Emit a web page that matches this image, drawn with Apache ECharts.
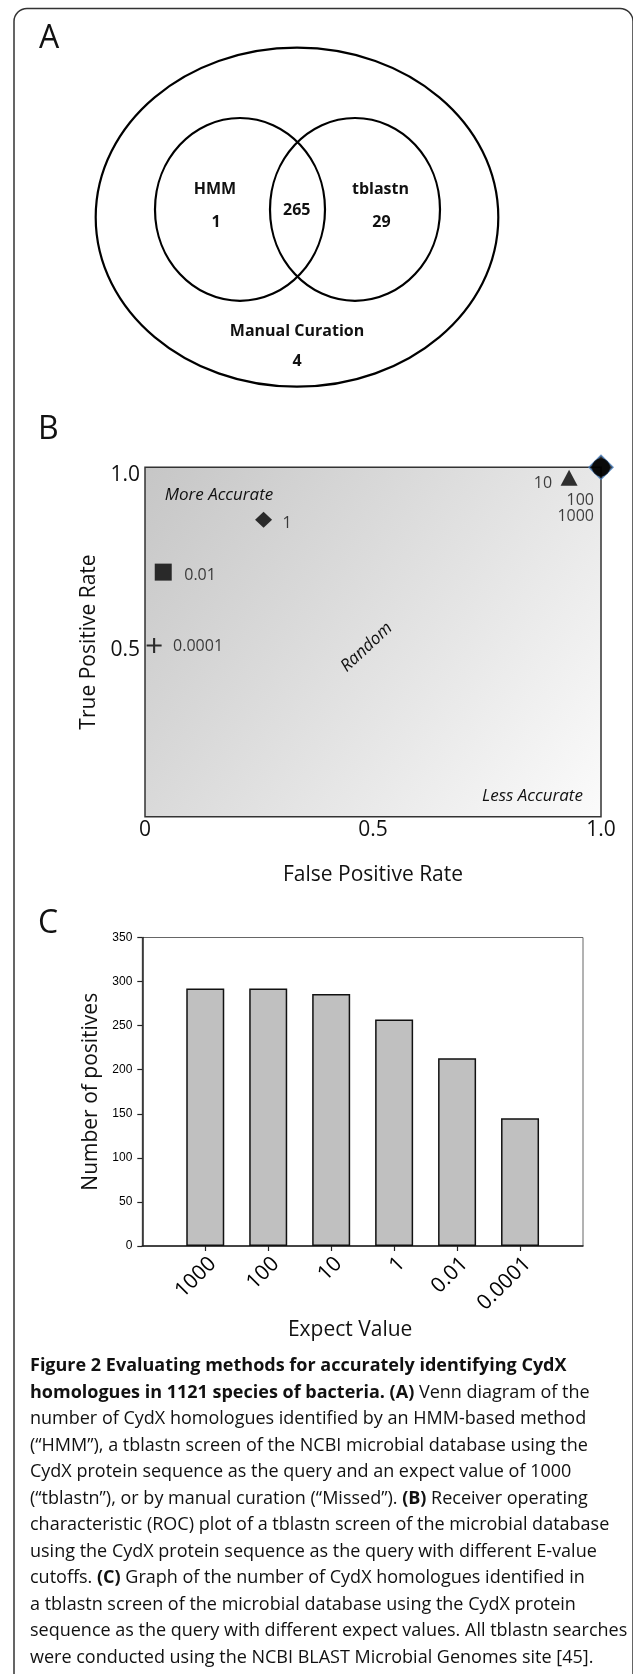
<!DOCTYPE html>
<html>
<head>
<meta charset="utf-8">
<script src="https://cdn.jsdelivr.net/npm/echarts@6/dist/echarts.min.js"></script>
<style>
html, body { margin: 0; padding: 0; background: #fff; }
#chartmain { width: 633px; height: 1674px; }
</style>
</head>
<body>
<div id="chartmain"></div>
<script>
// A: Venn counts
var vennNames = ['HMM', 'tblastn', 'Manual Curation'];
var vennOnly = [1, 29, 4];
var vennShared = 265;

// B: ROC points per E-value cutoff
var rocCutoffs = ['0.0001', '0.01', '1', '10', '100', '1000'];
var rocFpr = [0.02, 0.04, 0.26, 0.93, 1.0, 1.0];
var rocTpr = [0.49, 0.70, 0.85, 0.97, 1.0, 1.0];
var rocXLabels = ['0', '0.5', '1.0'];
var rocYLabels = ['', '0.5', '1.0'];

// C: positives per expect value
var expectValues = ['1000', '100', '10', '1', '0.01', '0.0001'];
var positives = [292, 292, 286, 257, 213, 145];

// layout of the venn panel, in panel pixels
var vennLayout = [
	{ cx : 240, cy : 209.4, rx : 85, ry : 91.4, tx : 215, ty : 189, nx : 216, ny : 222 },
	{ cx : 355, cy : 209.4, rx : 85, ry : 91.4, tx : 380.5, ty : 189, nx : 381.5, ny : 222 },
	{ cx : 297, cy : 217.2, rx : 201.3, ry : 169.5, tx : 297, ty : 331.7, nx : 297, ny : 361 }
];
var vennSharedPos = [296.7, 210.7];

var plusPath = 'path://M4.3,0H5.7V4.3H10V5.7H5.7V10H4.3V5.7H0V4.3H4.3Z';
var rocMarks = [
	{ symbol : plusPath, size : 15, offset : [ 19, 1 ], align : 'left' },
	{ symbol : 'rect', size : 17, offset : [ 21, 3 ], align : 'left' },
	{ symbol : 'diamond', size : [ 17, 16 ], offset : [ 19, 4 ], align : 'left' },
	{ symbol : 'triangle', size : [ 17, 16 ], offset : [ -17, 6 ], align : 'right' },
	{ symbol : 'diamond', size : 24, offset : [ -7, 33 ], align : 'right', border : '#4a7ebb' },
	{ symbol : 'circle', size : 18, offset : [ -7, 49 ], align : 'right' }
];

var font = 'Open Sans';
var ink = '#111';

var vennData = vennOnly.map(function(v, i) {
	return { name : vennNames[i], value : [ i, v ] };
});
vennData.push({ name : '', value : [ 3, vennShared ] });

var rocSeries = rocCutoffs.map(function(c, i) {
	var m = rocMarks[i];
	return {
		type : 'scatter',
		name : c,
		xAxisIndex : 1,
		yAxisIndex : 1,
		symbol : m.symbol,
		symbolSize : m.size,
		itemStyle : {
			color : '#000',
			borderColor : m.border || '#000',
			borderWidth : m.border ? 1.5 : 0
		},
		label : {
			show : true,
			position : 'inside',
			formatter : '{b}',
			align : m.align,
			verticalAlign : 'middle',
			offset : m.offset,
			fontFamily : font,
			fontSize : 16,
			color : ink
		},
		data : [ { name : c, value : [ rocFpr[i], rocTpr[i] ] } ]
	};
});

var captionLines = [
	'{b|Figure 2 Evaluating methods for accurately identifying CydX}',
	'{b|homologues in 1121 species of bacteria. (A)} Venn diagram of the',
	'number of CydX homologues identified by an HMM-based method',
	'(\u201cHMM\u201d), a tblastn screen of the NCBI microbial database using the',
	'CydX protein sequence as the query and an expect value of 1000',
	'(\u201ctblastn\u201d), or by manual curation (\u201cMissed\u201d). {b|(B)} Receiver operating',
	'characteristic (ROC) plot of a tblastn screen of the microbial database',
	'using the CydX protein sequence as the query with different E-value',
	'cutoffs. {b|(C)} Graph of the number of CydX homologues identified in',
	'a tblastn screen of the microbial database using the CydX protein',
	'sequence as the query with different expect values. All tblastn searches',
	'were conducted using the NCBI BLAST Microbial Genomes site [45].'
];

function panelLetter(t, x, y) {
	return {
		type : 'text', x : x, y : y,
		style : { text : t, fontFamily : font, fontSize : 32, fill : ink, verticalAlign : 'middle' }
	};
}
function note(t, x, y, rot) {
	return {
		type : 'text', x : x, y : y, rotation : rot || 0, z : 10,
		style : { text : t, fontFamily : font, fontStyle : 'italic', fontSize : 17, fill : ink,
			align : 'center', verticalAlign : 'middle' }
	};
}

var option = {
	animation : false,
	textStyle : { fontFamily : font },
	graphic : [
		{ type : 'rect', shape : { x : 14, y : 8.5, width : 619, height : 1700, r : 13 },
			style : { fill : 'none', stroke : '#333', lineWidth : 1.5 } },
		panelLetter('A', 39, 38.5),
		panelLetter('B', 38, 430),
		panelLetter('C', 38, 923.5),
		note('More Accurate', 219, 495),
		note('Less Accurate', 532.5, 796),
		note('Random', 366.6, 647.3, 0.75),
		{
			type : 'text', x : 30, y : 1353,
			style : {
				text : captionLines.join('\n'),
				fontFamily : font, fontSize : 18, lineHeight : 26.5, fill : ink,
				verticalAlign : 'top',
				rich : { b : { fontFamily : font, fontSize : 18, fontWeight : 'bold', lineHeight : 26.5, fill : ink } }
			}
		}
	],
	grid : [ {
		left : 0, top : 0, width : 633, height : 420, outerBoundsMode : 'none'
	}, {
		left : 145, top : 467.3, width : 456, height : 349.4, outerBoundsMode : 'none',
		show : true,
		backgroundColor : new echarts.graphic.LinearGradient(0, 0, 1, 1, [
			{ offset : 0, color : '#c6c6c6' }, { offset : 1, color : '#fbfbfb' } ]),
		borderColor : '#333',
		borderWidth : 1.5
	}, {
		left : 142.3, top : 937.5, width : 440.7, height : 308.5, outerBoundsMode : 'none',
		show : true,
		borderColor : '#666',
		borderWidth : 1
	} ],
	xAxis : [ {
		gridIndex : 0, type : 'value', min : 0, max : 633, show : false
	}, {
		gridIndex : 1, type : 'value', min : 0, max : 1, interval : 0.5,
		name : 'False Positive Rate', nameLocation : 'middle', nameGap : 48,
		nameTextStyle : { fontSize : 21, color : ink },
		axisLine : { show : false }, axisTick : { show : false }, splitLine : { show : false },
		axisLabel : {
			fontSize : 21, color : ink, margin : 3, showMinLabel : true, showMaxLabel : true,
			formatter : function(v) { return rocXLabels[Math.round(v * 2)]; }
		}
	}, {
		gridIndex : 2, type : 'value', min : 0, max : 7, interval : 1,
		name : 'Expect Value', nameLocation : 'middle', nameGap : 74,
		nameTextStyle : { fontSize : 21, color : ink, padding : [ 0, 25, 0, 0 ] },
		axisLine : { lineStyle : { color : '#222', width : 1.5 } },
		axisTick : { customValues : [ 1, 2, 3, 4, 5, 6 ], length : 5, lineStyle : { color : '#222', width : 1.2 } },
		splitLine : { show : false },
		axisLabel : {
			customValues : [ 1, 2, 3, 4, 5, 6 ],
			rotate : 45, fontSize : 21, color : '#000', margin : 7, verticalAlign : 'top',
			formatter : function(v) { return expectValues[v - 1] || ''; }
		}
	} ],
	yAxis : [ {
		gridIndex : 0, type : 'value', min : 0, max : 420, inverse : true, show : false
	}, {
		gridIndex : 1, type : 'value', min : 0, max : 1, interval : 0.5,
		name : 'True Positive Rate', nameLocation : 'middle', nameGap : 35,
		nameTextStyle : { fontSize : 21, color : ink },
		axisLine : { show : false }, axisTick : { show : false }, splitLine : { show : false },
		axisLabel : {
			fontSize : 21, color : ink, margin : 5, verticalAlign : 'top', lineHeight : 16,
			showMaxLabel : true,
			formatter : function(v) { return rocYLabels[Math.round(v * 2)]; }
		}
	}, {
		gridIndex : 2, type : 'value', min : 0, max : 350, interval : 50,
		name : 'Number of positives', nameLocation : 'middle', nameGap : 40,
		nameTextStyle : { fontSize : 21, color : ink },
		axisLine : { show : true, lineStyle : { color : '#222', width : 1.5 } },
		axisTick : { show : true, length : 5, lineStyle : { color : '#222', width : 1.2 } },
		splitLine : { show : false },
		axisLabel : { fontFamily : 'Liberation Sans', fontSize : 12, color : '#000', margin : 10 }
	} ],
	series : [ {
		type : 'custom',
		xAxisIndex : 0,
		yAxisIndex : 0,
		silent : true,
		clip : false,
		data : vennData,
		renderItem : function(params, api) {
			var i = params.dataIndex;
			var count = vennData[i].value[1];
			var txt = { fontFamily : font, fontSize : 16, fontWeight : 'bold', fill : ink,
				align : 'center', verticalAlign : 'middle' };
			if (i === 3) {
				var p = api.coord(vennSharedPos);
				return { type : 'text', x : p[0], y : p[1], style : Object.assign({ text : String(count) }, txt) };
			}
			var s = vennLayout[i];
			var c = api.coord([ s.cx, s.cy ]);
			var r = api.size([ s.rx, s.ry ]);
			var t = api.coord([ s.tx, s.ty ]);
			var n = api.coord([ s.nx, s.ny ]);
			return {
				type : 'group',
				children : [ {
					type : 'ellipse',
					shape : { cx : c[0], cy : c[1], rx : r[0], ry : r[1] },
					style : { fill : 'none', stroke : '#000', lineWidth : 2.2 }
				}, {
					type : 'text', x : t[0], y : t[1],
					style : Object.assign({ text : vennData[i].name }, txt)
				}, {
					type : 'text', x : n[0], y : n[1],
					style : Object.assign({ text : String(count) }, txt)
				} ]
			};
		}
	} ].concat(rocSeries).concat([ {
		type : 'bar',
		xAxisIndex : 2,
		yAxisIndex : 2,
		barWidth : 38,
		itemStyle : { color : '#c0c0c0', borderColor : '#111', borderWidth : 1.5 },
		data : positives.map(function(v, i) { return [ i + 1, v ]; })
	} ])
};

var myChart = echarts.init(document.getElementById('chartmain'));
myChart.setOption(option);
</script>
</body>
</html>
